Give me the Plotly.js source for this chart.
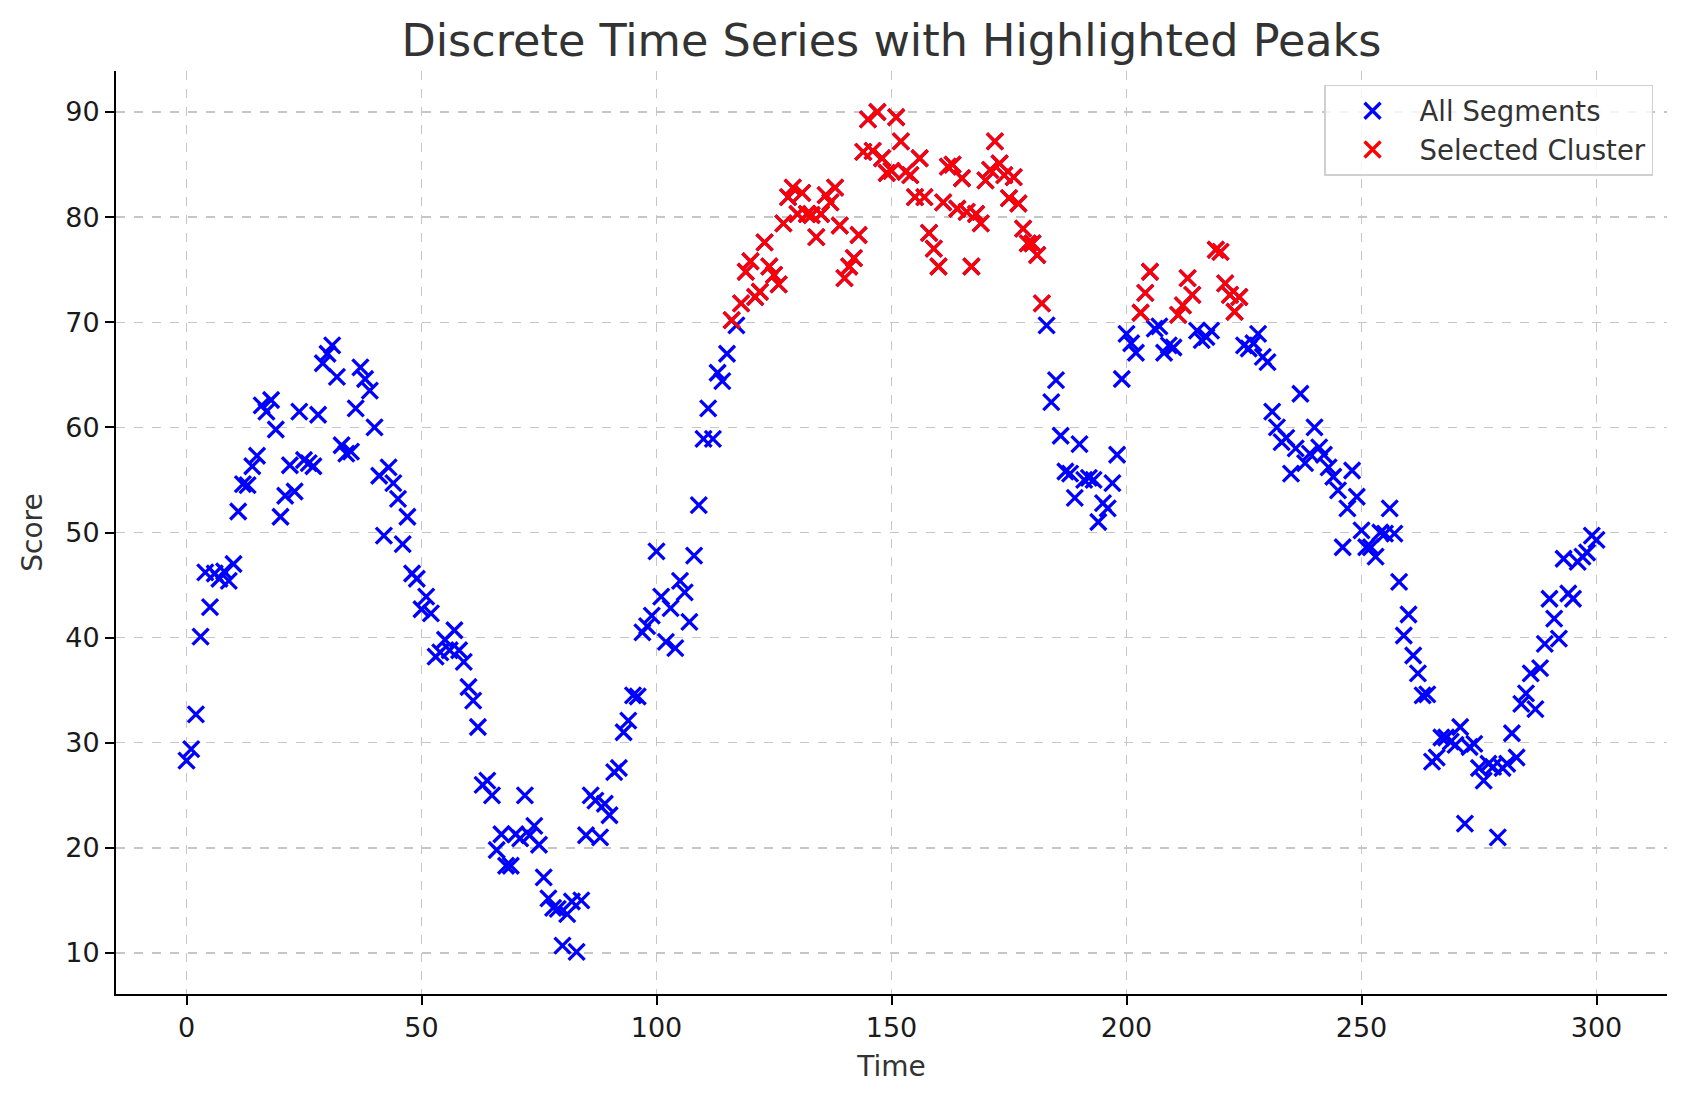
<!DOCTYPE html>
<html>
<head>
<meta charset="utf-8">
<script src="https://cdn.plot.ly/plotly-3.0.1.min.js"></script>
<style>html,body{margin:0;padding:0;background:#fff;}#chart{width:1686px;height:1101px;}</style>
</head>
<body>
<div id="chart"></div>
<script>
// Time index 0..300
const timeSteps = Array.from({length: 301}, (_, i) => i);

// Scores, one per time step
const scores = [
  28.3, 29.4, 32.7, 40.1, 46.2, 42.9, 46.1, 45.6, 46.3, 45.4,
  47.0, 52.0, 54.6, 54.5, 56.3, 57.3, 62.1, 61.5, 62.6, 59.8,
  51.5, 53.5, 56.4, 53.9, 61.5, 56.9, 56.6, 56.3, 61.2, 66.1,
  67.0, 67.8, 64.8, 58.3, 57.5, 57.7, 61.8, 65.7, 64.6, 63.5,
  60.0, 55.4, 49.7, 56.2, 54.7, 53.2, 48.9, 51.5, 46.1, 45.6,
  42.7, 43.9, 42.3, 38.2, 38.6, 39.8, 38.8, 40.7, 38.8, 37.7,
  35.3, 34.0, 31.5, 26.0, 26.4, 25.0, 19.8, 21.3, 18.3, 18.3,
  21.3, 20.9, 25.0, 21.2, 22.1, 20.3, 17.2, 15.2, 14.3, 14.2,
  10.7, 13.7, 14.9, 10.1, 15.0, 21.2, 25.0, 24.5, 21.0, 24.2,
  23.1, 27.2, 27.6, 31.0, 32.1, 34.5, 34.4, 40.5, 41.1, 42.1,
  48.2, 43.9, 39.6, 42.8, 39.0, 45.4, 44.3, 41.5, 47.8, 52.6,
  58.9, 61.8, 58.9, 65.2, 64.4, 67.0, 70.2, 69.7, 71.8, 74.8,
  75.8, 72.4, 72.9, 77.6, 75.3, 74.5, 73.6, 79.4, 81.9, 82.8,
  80.3, 82.3, 80.3, 80.2, 78.1, 80.3, 82.1, 81.4, 82.8, 79.2,
  74.2, 75.3, 76.1, 78.3, 86.2, 89.3, 86.3, 90.0, 85.6, 84.2,
  84.4, 89.5, 87.2, 84.3, 84.0, 81.9, 85.6, 81.9, 78.5, 77.0,
  75.3, 81.4, 84.8, 85.0, 80.8, 83.7, 80.5, 75.3, 80.3, 79.4,
  83.5, 84.5, 87.2, 85.1, 84.0, 81.8, 83.8, 81.3, 78.9, 77.5,
  77.5, 76.4, 71.8, 69.7, 62.4, 64.5, 59.2, 55.8, 55.6, 53.3,
  58.4, 55.0, 55.2, 55.0, 51.0, 52.8, 52.3, 54.7, 57.4, 64.6,
  68.9, 68.0, 67.1, 70.9, 72.8, 74.8, 69.4, 69.6, 67.1, 67.8,
  67.6, 70.7, 71.6, 74.2, 72.6, 69.2, 68.3, 68.6, 69.2, 76.9,
  76.7, 73.7, 72.6, 71.0, 72.4, 67.8, 67.5, 68.0, 68.9, 66.7,
  66.2, 61.5, 60.0, 58.6, 59.0, 55.6, 58.0, 63.2, 56.6, 57.5,
  60.0, 58.1, 57.4, 56.2, 55.3, 54.0, 48.6, 52.3, 55.9, 53.4,
  50.2, 48.6, 48.6, 47.7, 50.0, 49.9, 52.3, 49.9, 45.3, 40.2,
  42.2, 38.3, 36.6, 34.5, 34.6, 28.2, 28.6, 30.5, 30.5, 30.1,
  29.8, 31.5, 22.3, 29.6, 29.9, 27.6, 26.4, 28.0, 27.7, 21.0,
  27.6, 28.0, 30.9, 28.6, 33.7, 34.7, 36.6, 33.2, 37.1, 39.4,
  43.7, 41.8, 39.9, 47.5, 44.2, 43.7, 47.2, 47.7, 48.1, 49.7,
  49.3
];

// Cluster selection threshold
const clusterThreshold = 70;

const xTicks = [0, 50, 100, 150, 200, 250, 300];
const yTicks = [10, 20, 30, 40, 50, 60, 70, 80, 90];

const selT = [], selY = [];
timeSteps.forEach((t, i) => { if (scores[i] > clusterThreshold) { selT.push(t); selY.push(scores[i]); } });

const markerBase = {symbol: 'x-thin', size: 16};

const traces = [
  {x: timeSteps, y: scores, mode: 'markers', type: 'scatter', name: 'All Segments',
   marker: Object.assign({}, markerBase, {color: '#0000ff', line: {color: '#0000ff', width: 3.3}})},
  {x: selT, y: selY, mode: 'markers', type: 'scatter', name: 'Selected Cluster',
   marker: Object.assign({}, markerBase, {color: '#ff0000', line: {color: '#ff0000', width: 3.3}})}
];

const font = 'DejaVu Sans, sans-serif';
const axisCommon = {
  showline: true, linecolor: '#000', linewidth: 2, mirror: false,
  ticks: 'outside', ticklen: 9, tickwidth: 2, tickcolor: '#000',
  showgrid: true, gridcolor: '#c6c6c6', griddash: 'dash', gridwidth: 1.3,
  zeroline: false, tickfont: {family: font, size: 27, color: '#1a1a1a'}
};

const layout = {
  width: 1686, height: 1101,
  paper_bgcolor: '#fff', plot_bgcolor: '#fff',
  margin: {l: 116, r: 19, t: 71, b: 107},
  font: {family: font, color: '#333'},
  title: {text: 'Discrete Time Series with Highlighted Peaks', font: {family: font, size: 44.5, color: '#333'},
          x: 0.5, xanchor: 'center', xref: 'paper', y: 1 - 40 / 1101, yanchor: 'middle', yref: 'container'},
  xaxis: Object.assign({}, axisCommon, {range: [-15, 315], tickvals: xTicks, ticktext: xTicks.map(String),
    title: {text: 'Time', font: {family: font, size: 28, color: '#333'}, standoff: 14}}),
  yaxis: Object.assign({}, axisCommon, {range: [6.1, 93.9], tickvals: yTicks, ticktext: yTicks.map(String),
    title: {text: 'Score', font: {family: font, size: 28, color: '#333'}, standoff: 14}}),
  legend: {x: 0.991, y: 0.985, xanchor: 'right', yanchor: 'top', bgcolor: 'rgba(255,255,255,0.8)',
    bordercolor: '#d0d0d0', borderwidth: 1.5, font: {family: font, size: 27.5, color: '#333'},
    itemwidth: 84, tracegroupgap: 10},
  showlegend: true
};

Plotly.newPlot('chart', traces, layout, {displayModeBar: false, staticPlot: true});
</script>
</body>
</html>
